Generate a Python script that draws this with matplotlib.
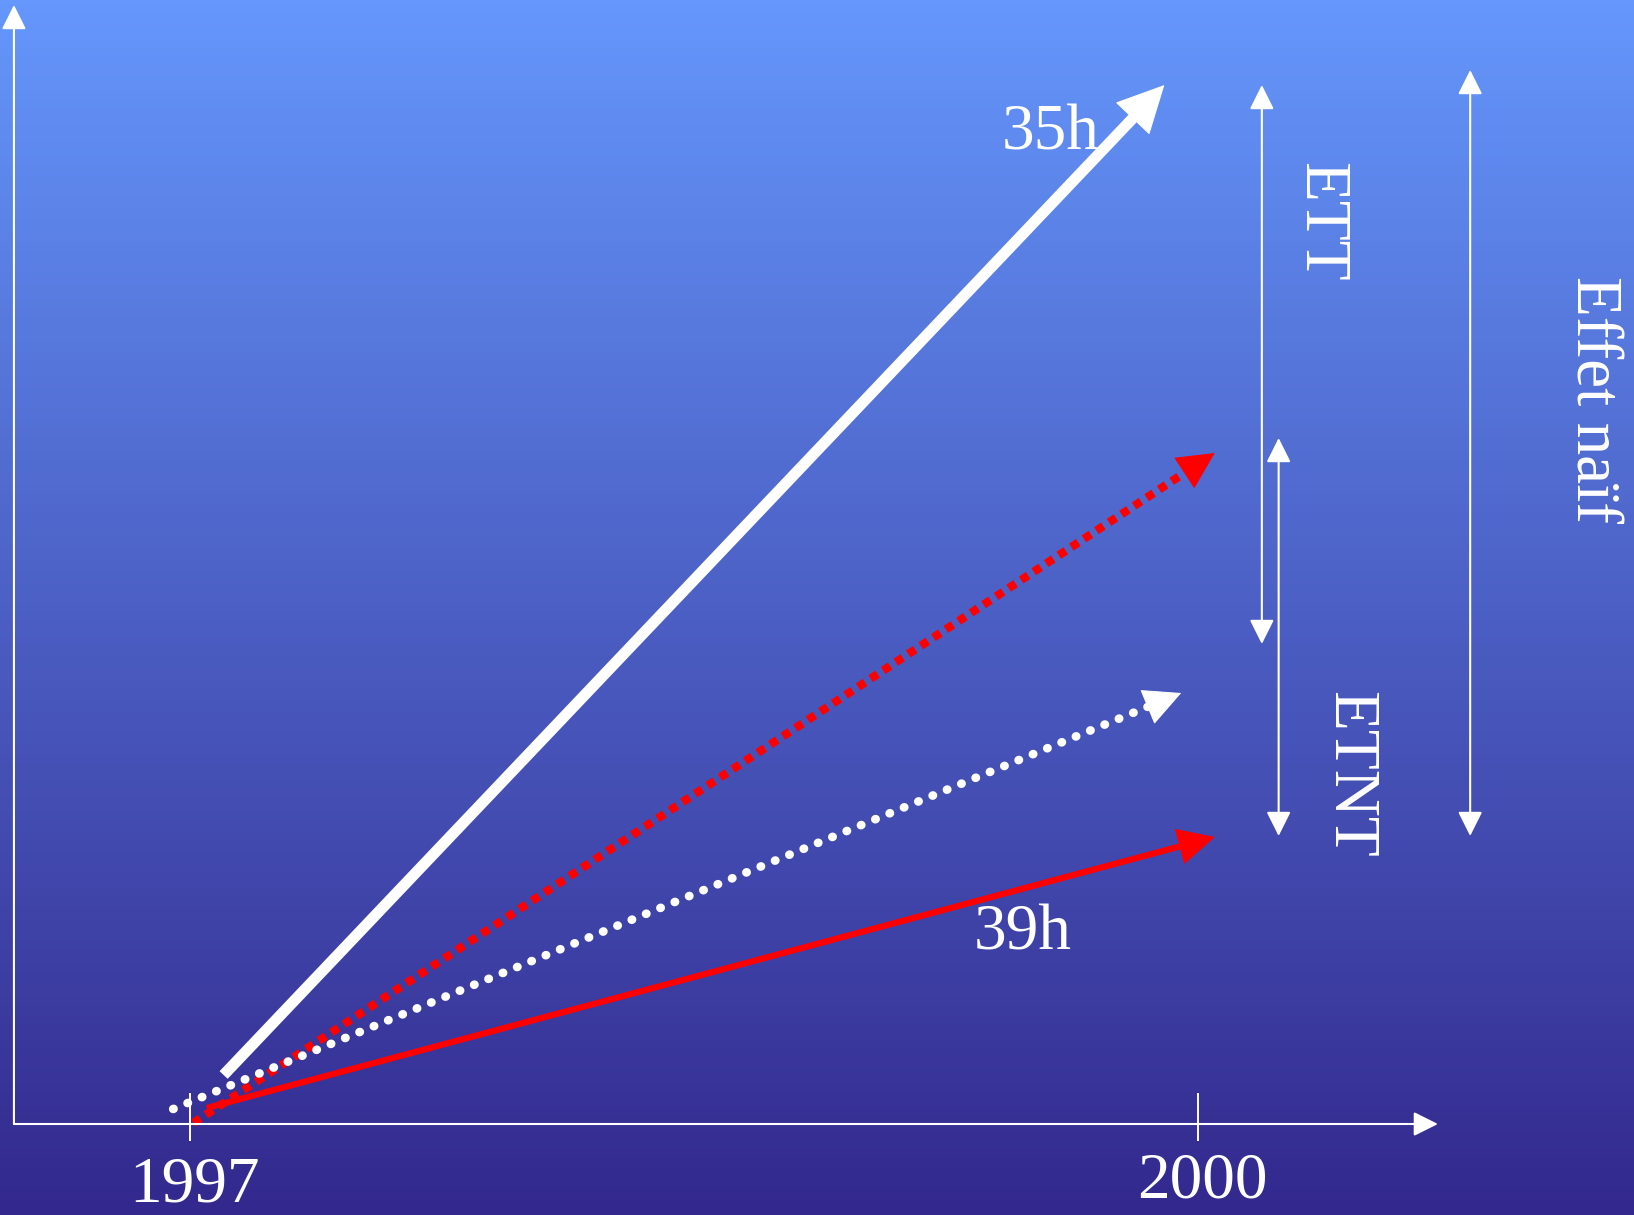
import numpy as np
import matplotlib
matplotlib.use("Agg")
import matplotlib.pyplot as plt
from matplotlib.colors import LinearSegmentedColormap

plt.rcParams['font.family'] = ['Liberation Serif', 'DejaVu Serif']

# years on the time axis
tick_years = [1997, 2000]
tick_labels = ["1997", "2000"]

# trend arrows: start (year, level) -> end (year, level)
trend_names = ["35h", "ETT contrefactuel", "ETNT contrefactuel", "39h"]
x_start = [1997.10, 1997.01, 1996.95, 1997.05]
y_start = [4.9, 0.1, 1.5, 1.6]
x_end = [1999.90, 2000.05, 1999.95, 2000.05]
y_end = [103.9, 67.1, 43.1, 28.7]

# vertical double arrows (effects)
span_labels = ["ETT", "ETNT", "Effet naïf"]
span_x = [2000.19, 2000.24, 2000.81]
span_top = [103.9, 68.6, 105.4]
span_bottom = [48.0, 28.8, 28.8]

fig = plt.figure(figsize=(16.34, 12.15), dpi=100)

# gradient background
bg = fig.add_axes([0, 0, 1, 1], zorder=0)
cmap = LinearSegmentedColormap.from_list("bg", ["#6597FC", "#33288D"])
bg.imshow(np.linspace(0, 1, 256).reshape(-1, 1), cmap=cmap, aspect='auto',
          extent=[0, 1, 0, 1])
bg.set_axis_off()

ax = fig.add_axes([0, 0, 1, 1], zorder=1)
ax.patch.set_alpha(0)
ax.set_xlim(1996.4345, 2001.2976)
ax.set_ylim(-9.1, 112.4)
for s in ax.spines.values():
    s.set_visible(False)
ax.spines['bottom'].set_position(('data', 0.75))
ax.set_xticks(tick_years)
ax.set_yticks([])
ax.tick_params(axis='x', direction='inout', length=35, width=1.4,
               color='white', labelbottom=False)

# axes as arrows
thin = dict(arrowstyle='-|>,head_length=15,head_width=7.5', color='white',
            lw=1.5, shrinkA=0, shrinkB=0, mutation_scale=1)
ax.annotate("", xy=(1996.476, 111.9), xytext=(1996.476, 0), arrowprops=thin)
ax.annotate("", xy=(2000.714, 0), xytext=(1996.476, 0), arrowprops=thin)

for yr, lab, yb in zip(tick_years, tick_labels, [-7.8, -7.3]):
    ax.text(yr + 0.012, yb, lab, color='white', fontsize=47, ha='center',
            va='baseline')

# trend arrows: shaft drawn as a line, head as a filled arrow tip
styles = [
    dict(color='white', lw=8, head=(32, 16), ls='-', cap='butt'),
    dict(color='red', lw=6, head=(25, 12.5), ls=(0, (1, 0.8)), cap='butt'),
    dict(color='white', lw=6.2, head=(25, 12.5), ls=(0, (0.05, 1.75)), cap='round'),
    dict(color='red', lw=4.5, head=(25, 12.5), ls='-', cap='butt'),
]
for i, st in enumerate(styles):
    hl, hw = st['head']
    dx = x_end[i] - x_start[i]
    dy = y_end[i] - y_start[i]
    ax.plot([x_start[i], x_end[i] - 0.03 * dx], [y_start[i], y_end[i] - 0.03 * dy],
            color=st['color'], lw=st['lw'], ls=st['ls'],
            dash_capstyle=st['cap'], solid_capstyle='butt')
    ax.annotate("", xy=(x_end[i], y_end[i]),
                xytext=(x_end[i] - 0.02 * dx, y_end[i] - 0.02 * dy),
                arrowprops=dict(arrowstyle=f'-|>,head_length={hl},head_width={hw}',
                                color=st['color'], lw=0.8, shrinkA=0, shrinkB=0,
                                mutation_scale=1))

ax.text(1999.5625, 97.5, trend_names[0], color='white', fontsize=47,
        ha='center', va='baseline')
ax.text(1999.479, 17.4, trend_names[3], color='white', fontsize=47,
        ha='center', va='baseline')

# effect spans
dbl = dict(arrowstyle='<|-|>,head_length=15,head_width=7.5', color='white',
           lw=1.5, shrinkA=0, shrinkB=0, mutation_scale=1)
for x, t, b in zip(span_x, span_top, span_bottom):
    ax.annotate("", xy=(x, t), xytext=(x, b), arrowprops=dbl)

label_pos = [(2000.363, 90.2), (2000.45, 35.0), (2001.173, 72.5)]
for lab, (lx, ly) in zip(span_labels, label_pos):
    ax.text(lx, ly, lab, color='white', fontsize=47, rotation=-90,
            ha='center', va='center')

fig.savefig("out.png", dpi=100)
